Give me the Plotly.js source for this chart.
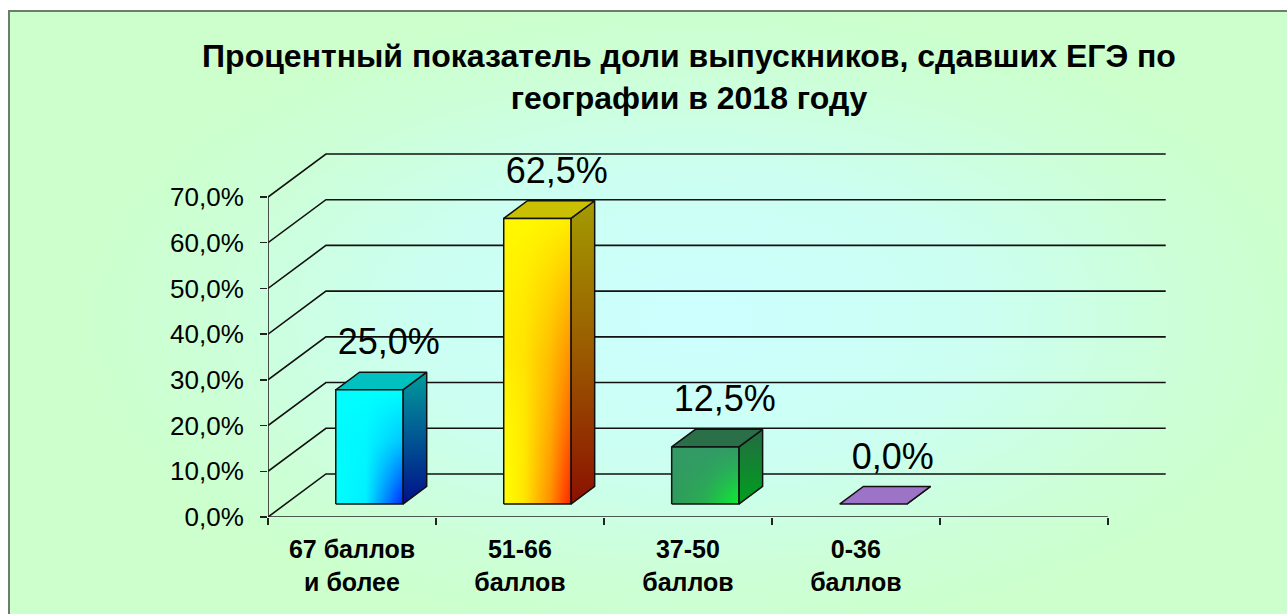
<!DOCTYPE html>
<html>
<head>
<meta charset="utf-8">
<script src="https://cdn.plot.ly/plotly-3.0.1.min.js"></script>
<style>
  html, body { margin: 0; padding: 0; background: #ffffff; }
  #frame {
    position: absolute; left: 8px; top: 10px; width: 1300px; height: 620px;
    border: 2px solid #6c7d6c; box-sizing: border-box;
    background: radial-gradient(ellipse 48% 52% at 53% 50%, #ccffff 0%, #ccfff2 45%, #ccffd6 80%, #ccffcc 100%);
  }
  #chart { position: absolute; left: 0; top: 0; width: 1287px; height: 614px; }
</style>
</head>
<body>
<div id="frame"></div>
<div id="chart"></div>
<script>
// ---- data ----
const categories = ['67 баллов<br>и более', '51-66<br>баллов', '37-50<br>баллов', '0-36<br>баллов'];
const values = [25.0, 62.5, 12.5, 0.0];
const yTickVals = [0, 10, 20, 30, 40, 50, 60, 70];
const yTickText = yTickVals.map(v => v.toFixed(1).replace('.', ',') + '%');
const slotCount = 5;            // floor slots (last one empty)
const titleText = 'Процентный показатель доли выпускников, сдавших ЕГЭ по<br>географии в 2018 году';

// ---- pseudo-3D styling (projection of depth onto the axes) ----
const DX = 0.345;   // full depth -> x shift (category units)
const DY = 9.41;    // full depth -> y shift (value units)
const D0 = 0.30;    // bar front depth
const DD = 0.41;    // bar thickness in depth
const BW = 0.40;    // bar width (category units)
const FONT = '"Liberation Sans", Arial, sans-serif';

const faceStyles = [
  { front: [[0,'#00ffff'],[0.45,'#00eeff'],[1,'#0028ff']],
    frontOver: [[0,'rgba(0,255,255,0)'],[0.55,'rgba(0,250,255,0.75)'],[1,'rgba(0,255,255,1)']],
    side: [[0,'#00108a'],[1,'#009c9c']], top: '#00c0c0' },
  { front: [[0,'#ffff00'],[0.3,'#ffe600'],[0.7,'#ff8c00'],[1,'#ff2200']],
    frontOver: [[0,'rgba(255,255,0,0)'],[0.5,'rgba(255,225,0,0.55)'],[1,'rgba(255,250,0,0.95)']],
    side: [[0,'#8c1000'],[0.5,'#9a5a00'],[1,'#a39c00']], top: '#c8c000' },
  { front: [[0,'#2f9a5c'],[0.5,'#27b050'],[1,'#0af030']],
    frontOver: [[0,'rgba(51,153,102,0)'],[0.6,'rgba(51,153,102,0.7)'],[1,'rgba(51,153,102,1)']],
    side: [[0,'#00a01e'],[1,'#236b42']], top: '#2a6f48' },
  { front: [[0,'#9b72c4'],[1,'#9b72c4']],
    frontOver: [[0,'rgba(155,114,196,0)'],[1,'rgba(155,114,196,0)']],
    side: [[0,'#7a55a0'],[1,'#7a55a0']], top: '#9c73c6' }
];

const traces = [];
const noHover = { hoverinfo: 'skip', showlegend: false };

// back wall + side wall grid lines
const gx = [], gy = [];
yTickVals.forEach(v => {
  gx.push(0, DX, slotCount + DX, null);
  gy.push(v, v + DY, v + DY, null);
});
traces.push(Object.assign({ type: 'scatter', mode: 'lines', x: gx, y: gy,
  line: { color: '#111', width: 1.6 } }, noHover));

// front axis lines
traces.push(Object.assign({ type: 'scatter', mode: 'lines',
  x: [0, 0, null, 0, slotCount], y: [yTickVals[yTickVals.length - 1], 0, null, 0, 0],
  line: { color: '#222', width: 1.6 } }, noHover));

// bars
values.forEach((v, i) => {
  const s = faceStyles[i];
  const x0 = i + (1 - BW) / 2 + D0 * DX, x1 = x0 + BW;
  const b = D0 * DY, t = v + D0 * DY;
  const ox = DD * DX, oy = DD * DY;
  const line = { color: '#111', width: 1.5 };
  // side face
  traces.push(Object.assign({ type: 'scatter', mode: 'lines', fill: 'toself',
    x: [x1, x1 + ox, x1 + ox, x1, x1], y: [b, b + oy, t + oy, t, b],
    fillgradient: { type: 'vertical', colorscale: s.side }, line }, noHover));
  // top face
  traces.push(Object.assign({ type: 'scatter', mode: 'lines', fill: 'toself',
    x: [x0, x1, x1 + ox, x0 + ox, x0], y: [t, t, t + oy, t + oy, t],
    fillcolor: s.top, line }, noHover));
  if (v > 0) {
    // front face: horizontal gradient + vertical overlay (diagonal look)
    traces.push(Object.assign({ type: 'scatter', mode: 'lines', fill: 'toself',
      x: [x0, x1, x1, x0, x0], y: [b, b, t, t, b],
      fillgradient: { type: 'horizontal', colorscale: s.front },
      line: { width: 0 } }, noHover));
    traces.push(Object.assign({ type: 'scatter', mode: 'lines', fill: 'toself',
      x: [x0, x1, x1, x0, x0], y: [b, b, t, t, b],
      fillgradient: { type: 'vertical', colorscale: s.frontOver }, line }, noHover));
  }
});

// data labels
const mid = D0 + DD / 2;
traces.push(Object.assign({ type: 'scatter', mode: 'text',
  x: values.map((v, i) => i + 0.5 + mid * DX + 0.045),
  y: values.map(v => v + mid * DY + 7.8),
  customdata: values,
  texttemplate: '%{customdata:.1f}%',
  textposition: 'middle center',
  textfont: { family: FONT, size: 36, color: '#000' },
  cliponaxis: false }, noHover));

const layout = {
  width: 1287, height: 614,
  margin: { l: 268, r: 107, t: 140, b: 97 },
  paper_bgcolor: 'rgba(0,0,0,0)', plot_bgcolor: 'rgba(0,0,0,0)',
  separators: ',.',
  title: { text: titleText, font: { family: FONT, size: 32, color: '#000', weight: 'bold' },
    x: 689 / 1287, xref: 'container', xanchor: 'center', y: 1 - 67 / 614, yref: 'container', yanchor: 'middle' },
  xaxis: {
    range: [0, 5.43], showgrid: false, zeroline: false, showline: false,
    tickvals: categories.map((c, i) => i + 0.5), ticktext: categories,
    ticks: '', ticklabelstandoff: 15,
    tickfont: { family: FONT, size: 25, color: '#000', weight: 'bold' },
    minor: { tickvals: Array.from({ length: slotCount + 1 }, (_, i) => i), ticks: 'outside', ticklen: 7, tickcolor: '#222', tickwidth: 1.5, showgrid: false },
    fixedrange: true
  },
  yaxis: {
    range: [0, 82.47], showgrid: false, zeroline: false, showline: false,
    tickvals: yTickVals, ticktext: yTickText,
    ticks: 'outside', ticklen: 7, tickcolor: '#222', tickwidth: 1.5,
    ticklabelstandoff: 11,
    tickfont: { family: FONT, size: 26, color: '#000' },
    fixedrange: true
  },
  showlegend: false
};

Plotly.newPlot('chart', traces, layout, { displayModeBar: false, staticPlot: true });
</script>
</body>
</html>
